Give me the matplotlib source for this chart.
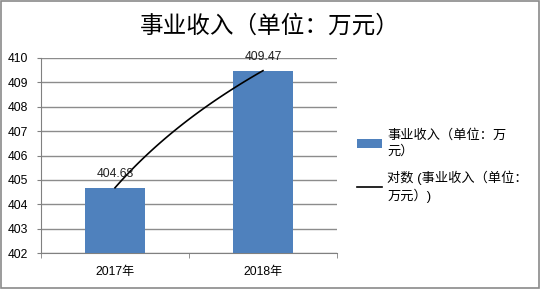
import numpy as np
import matplotlib
matplotlib.use('Agg')
import matplotlib.pyplot as plt
from matplotlib.patches import Rectangle

plt.rcParams['font.family'] = ['Liberation Sans', 'Noto Sans CJK SC', 'DejaVu Sans']

# data
categories = ['2017年', '2018年']
values = [404.68, 409.47]
series_name = '事业收入（单位：万元）'
legend_bar = '事业收入（单位：万\n元）'
legend_trend = '对数 (事业收入（单位：\n万元）)'
y_ticks = [402, 403, 404, 405, 406, 407, 408, 409, 410]


def main():
    fig = plt.figure(figsize=(5.4, 2.89), dpi=100)
    ax = fig.add_axes([0.0759, 0.1235, 0.5481, 0.6768])

    x = np.arange(len(categories))
    bars = ax.bar(x, values, width=0.4, color='#4F81BD', zorder=3)

    # logarithmic trendline, fitted like Excel does (y = a*ln(x) + b, x = 1..n)
    xs = np.arange(1, len(values) + 1)
    b, a = np.polyfit(np.log(xs), values, 1)
    xt = np.linspace(1, len(values), 100)
    trend, = ax.plot(xt - 1, a + b * np.log(xt), color='black', lw=1.2, zorder=4)

    for xi, v in zip(x, values):
        ax.text(xi, v + 0.33, '%.2f' % v, ha='center', va='bottom', fontsize=8.7, color='#222222', zorder=5)

    ax.set_xlim(-0.5, len(categories) - 0.5)
    ax.set_ylim(402, 410)
    ax.set_yticks(y_ticks)
    ax.set_xticks(x)
    ax.set_xticklabels(categories)
    ax.set_xticks([-0.5, 0.5, 1.5], minor=True)
    ax.tick_params(axis='x', which='major', length=0, pad=9, labelsize=8.7)
    ax.tick_params(axis='x', which='minor', length=3.5, color='#808080')
    ax.tick_params(axis='y', length=3, color='#808080', pad=6, labelsize=8.7)

    ax.grid(axis='y', color='#8c8c8c', lw=1.0, zorder=0)
    for s in ['top', 'right']:
        ax.spines[s].set_visible(False)
    for s in ['left', 'bottom']:
        ax.spines[s].set_color('#808080')

    fig.text(0.5, 0.91, series_name, ha='center', va='center', fontsize=17,
             family=['Noto Sans CJK SC', 'DejaVu Sans'])

    leg = fig.legend([bars, trend], [legend_bar, legend_trend],
                     loc='upper left', bbox_to_anchor=(357 / 540, 1 - 129 / 289),
                     frameon=False, fontsize=9.5, handlelength=1.9, handletextpad=0.4,
                     borderpad=0, borderaxespad=0, labelspacing=1.0)
    for t in leg.get_texts():
        t.set_linespacing(1.35)

    fig.patches.append(Rectangle((0.001, 0.002), 0.997, 0.995, transform=fig.transFigure,
                                 fill=False, edgecolor='#8a8a8a', lw=1.2))

    fig.savefig('out.png', dpi=100)
    plt.close('all')


if __name__ == '__main__':
    main()
